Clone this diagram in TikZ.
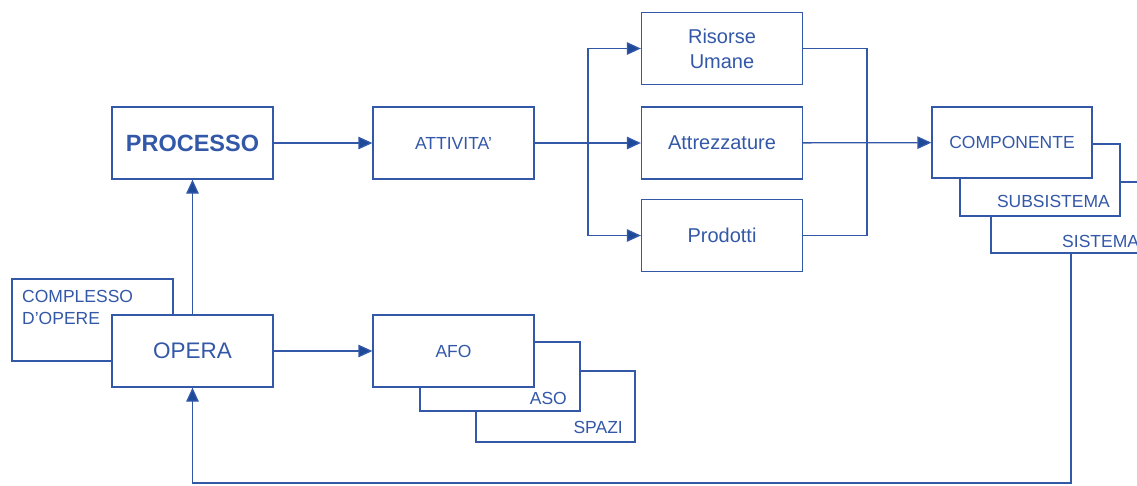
\documentclass[tikz,border=0pt]{standalone}
\usepackage{fontspec}
\setmainfont{Liberation Sans}
\usepackage{xcolor}
\usepackage{tikz}
\usetikzlibrary{arrows.meta,positioning,calc}

\definecolor{lineblue}{RGB}{52,88,168}
\definecolor{tipblue}{RGB}{30,72,152}

\begin{document}
\begin{tikzpicture}[
    x=1pt, y=-1pt,
    block/.style={rectangle, draw=lineblue, fill=white, line width=1.3pt, minimum width=161pt, minimum height=72pt, inner sep=0pt, text=lineblue, align=center, font=\fontsize{17.5}{21}\selectfont},
    bigblock/.style={block, font=\fontsize{20}{25}\selectfont},
    tag/.style={inner sep=0pt, text=lineblue, font=\fontsize{17.5}{22}\selectfont},
    arrow/.style={-{Triangle[length=14pt,width=12.5pt,fill=tipblue]}, line width=1.3pt, draw=lineblue},
    link/.style={line width=1.3pt, draw=lineblue}
]
\clip (0,0) rectangle (1137,485);

% Process
\node[block, font=\fontsize{23.5}{28}\selectfont\bfseries] (processo) at (192.5,143) {PROCESSO};
\node[block] (attivita) at (453.5,143) {ATTIVITA'};

% Resources
\node[bigblock] (risorse) at (722,48.5) {Risorse\\Umane};
\node[bigblock] (attrezz) at (722,143) {Attrezzature};
\node[bigblock] (prodotti) at (722,235.5) {Prodotti};

% Technological levels (back to front)
\node[block, minimum width=160pt, minimum height=71pt] (sistema) at (1071,217.5) {};
\node[tag, anchor=base west] (sistemaT) at (1062,247) {SISTEMA};
\node[block, minimum width=160pt] (subsistema) at (1040,180) {};
\node[tag, anchor=base east] (subsistemaT) at (1110,207) {SUBSISTEMA};
\node[block, minimum width=160pt, minimum height=71pt] (componente) at (1012,142.5) {COMPONENTE};

% Works
\node[block, minimum height=82pt] (complesso) at (92.5,320) {};
\node[tag, anchor=north west, align=left] (complessoT) at (22,290) {COMPLESSO\\D'OPERE};
\node[block, font=\fontsize{22.5}{27}\selectfont] (opera) at (192.5,351) {OPERA};

% Spatial units (back to front)
\node[block, minimum width=159pt, minimum height=71pt] (spazi) at (555.5,406.5) {};
\node[tag, anchor=base east] (spaziT) at (623,433) {SPAZI};
\node[block, minimum width=160pt, minimum height=69pt] (aso) at (500,376.5) {};
\node[tag, anchor=base east] (asoT) at (567,404) {ASO};
\node[block] (afo) at (453.5,351) {AFO};

% Arrows
\draw[arrow] (opera) -- (processo);
\draw[arrow] (processo) -- (attivita);
\draw[arrow] (opera) -- (afo);
\draw[arrow] (attivita) -- (attrezz);

\coordinate (split) at (588,143);
\draw[arrow] (split) |- (risorse);
\draw[arrow] (split) |- (prodotti);

\coordinate (merge) at (867,143);
\draw[link] (risorse) -| (merge) |- (prodotti);
\draw[arrow] (attrezz) -- (componente);

% Feedback
\coordinate (back) at (1071,483);
\draw[arrow] (sistema) -- (back) -| (opera);

\end{tikzpicture}
\end{document}
